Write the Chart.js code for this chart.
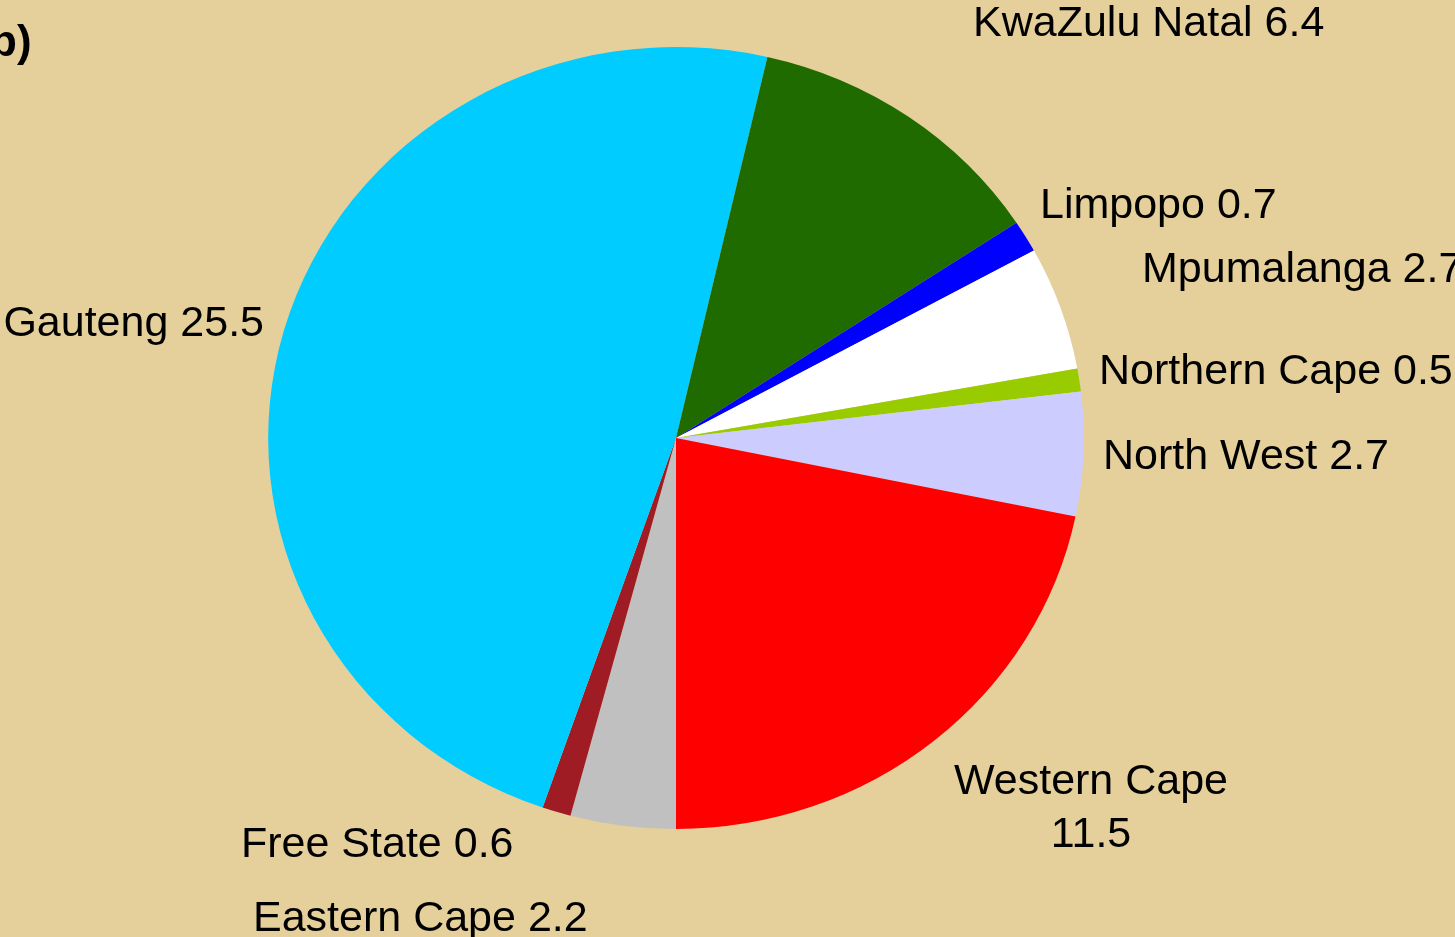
<!DOCTYPE html>
<html>
<head>
<meta charset="utf-8">
<script src="https://cdn.jsdelivr.net/npm/chart.js@4"></script>
<style>
  html, body { margin: 0; padding: 0; background: #E5D09B; }
  #wrap { width: 1455px; height: 937px; position: relative; }
</style>
</head>
<body>
<div id="wrap"><canvas id="pie" width="1455" height="937"></canvas></div>
<script>
// provinces in sheet order (alphabetical), values in %
const provinces = ['Eastern Cape', 'Free State', 'Gauteng', 'KwaZulu Natal', 'Limpopo',
                   'Mpumalanga', 'Northern Cape', 'North West', 'Western Cape'];
const shares = [2.2, 0.6, 25.5, 6.4, 0.7, 2.7, 0.5, 2.7, 11.5];
const sliceColors = ['#C0C0C0', '#A01C24', '#00CCFF', '#1F6B00', '#0000FF',
                     '#FFFFFF', '#99CC00', '#CCCCFF', '#FF0000'];

// where each data label sits, relative to the pie centre
const labelLayout = [
    { dx: -423, dy: 481, align: 'left' },
    { dx: -435, dy: 407, align: 'left' },
    { dx: -412, dy: -114, align: 'right' },
    { dx: 297, dy: -414, align: 'left' },
    { dx: 364, dy: -232, align: 'left' },
    { dx: 466, dy: -168, align: 'left' },
    { dx: 423, dy: -66, align: 'left' },
    { dx: 427, dy: 19, align: 'left' },
    { dx: 415, dy: 344, align: 'center', wrap: true },
];

const STRETCH_X = 1.043; // the original pie is a little wider than tall

const ellipse = {
    id: 'ellipse',
    beforeDatasetsDraw(chart) {
        const arc = chart.getDatasetMeta(0).data[0];
        const ctx = chart.ctx;
        ctx.save();
        ctx.translate(arc.x, arc.y);
        ctx.scale(STRETCH_X, 1);
        ctx.translate(-arc.x, -arc.y);
    },
    afterDatasetsDraw(chart) {
        chart.ctx.restore();
    }
};

const sliceLabels = {
    id: 'sliceLabels',
    afterDraw(chart) {
        const ctx = chart.ctx;
        const arc = chart.getDatasetMeta(0).data[0];
        ctx.save();
        ctx.fillStyle = '#000';
        ctx.font = '43px "Liberation Sans", Arial, sans-serif';
        ctx.textBaseline = 'middle';
        provinces.forEach((name, i) => {
            const pos = labelLayout[i];
            ctx.textAlign = pos.align;
            const x = arc.x + pos.dx, y = arc.y + pos.dy;
            if (pos.wrap) {
                ctx.fillText(name, x, y);
                ctx.fillText(String(shares[i]), x, y + 53);
            } else {
                ctx.fillText(name + ' ' + shares[i], x, y);
            }
        });
        // panel letter, partly cut off at the left edge
        ctx.font = 'bold 44px "Liberation Sans", Arial, sans-serif';
        ctx.textAlign = 'left';
        ctx.fillText('b)', -10, 44);
        ctx.restore();
    }
};

new Chart(document.getElementById('pie'), {
    type: 'pie',
    data: {
        labels: provinces,
        datasets: [{
            data: shares,
            backgroundColor: sliceColors,
            borderWidth: 0,
            hoverOffset: 0,
        }]
    },
    options: {
        responsive: false,
        animation: false,
        rotation: 180,
        layout: { padding: { top: 47, bottom: 108, left: 0, right: 103 } },
        plugins: {
            legend: { display: false },
            tooltip: { enabled: false },
        }
    },
    plugins: [ellipse, sliceLabels]
});
</script>
</body>
</html>
